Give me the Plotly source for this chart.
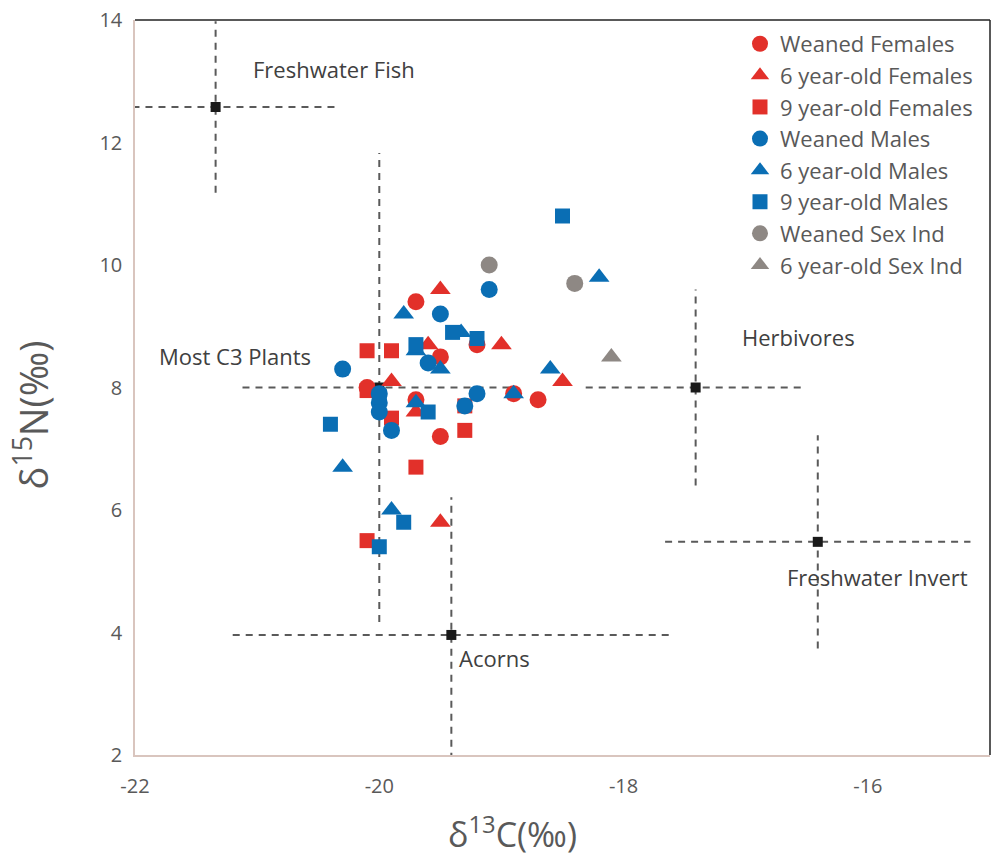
import plotly.graph_objects as go

# ---------------- data ----------------
wf_x = [-19.7, -19.5, -19.2, -20.1, -19.7, -18.9, -18.7, -19.5]
wf_y = [9.4, 8.5, 8.7, 8.0, 7.8, 7.9, 7.8, 7.2]

f6_x = [-19.5, -19.6, -19.0, -18.5, -19.9, -19.7, -19.5]
f6_y = [9.6, 8.7, 8.7, 8.1, 8.1, 7.6, 5.8]

f9_x = [-20.1, -19.9, -20.1, -19.9, -19.3, -19.3, -19.7, -20.1]
f9_y = [8.6, 8.6, 7.95, 7.5, 7.7, 7.3, 6.7, 5.5]

wm_x = [-19.1, -19.5, -20.3, -19.6, -19.2, -19.3, -19.9, -20.0, -20.0, -20.0]
wm_y = [9.6, 9.2, 8.3, 8.4, 7.9, 7.7, 7.3, 7.9, 7.75, 7.6]

m6_x = [-18.2, -19.8, -19.33, -19.7, -19.5, -18.6, -18.9, -19.7, -20.3, -19.9]
m6_y = [9.8, 9.2, 8.9, 8.6, 8.3, 8.3, 7.9, 7.75, 6.7, 6.0]

m9_x = [-18.5, -19.4, -19.2, -19.7, -19.6, -20.4, -19.8, -20.0, -20.0]
m9_y = [10.8, 8.9, 8.8, 8.7, 7.6, 7.4, 5.8, 5.4, 7.85]

ws_x = [-19.1, -18.4]
ws_y = [10.0, 9.7]

s6_x = [-18.1]
s6_y = [8.5]

src_names = ["Freshwater Fish", "Most C3 Plants", "Herbivores", "Freshwater Invert", "Acorns"]
src_x = [-21.34, -20.0, -17.41, -16.41, -19.41]
src_y = [12.58, 8.0, 8.0, 5.48, 3.96]
src_xerr = [1.0, 1.12, 0.9, 1.25, 1.79]
src_yerr = [1.4, 3.83, 1.6, 1.74, 2.25]
lbl_x = [-20.37, -21.18, -16.57, -15.92, -19.06]
lbl_y = [13.2, 8.52, 8.82, 4.9, 3.58]

x_ticks = [-22, -20, -18, -16]
y_ticks = [2, 4, 6, 8, 10, 12, 14]

RED = "#E2302A"
BLUE = "#0A6EB4"
GREY = "#8E8884"
TXT = "#595959"
DASH = "#5A5A5A"
NARROW = "Liberation Sans Narrow, Arial Narrow, Open Sans"

fig = go.Figure()

# source error bars (dashed)
for i in range(len(src_names)):
    fig.add_trace(go.Scatter(
        x=[src_x[i] - src_xerr[i], src_x[i] + src_xerr[i]], y=[src_y[i], src_y[i]],
        mode="lines", line=dict(color=DASH, width=2, dash="7px,6px"),
        showlegend=False, hoverinfo="skip"))
    fig.add_trace(go.Scatter(
        x=[src_x[i], src_x[i]], y=[src_y[i] - src_yerr[i], src_y[i] + src_yerr[i]],
        mode="lines", line=dict(color=DASH, width=2, dash="7px,6px"),
        showlegend=False, hoverinfo="skip"))
fig.add_trace(go.Scatter(x=src_x, y=src_y, mode="markers",
                         marker=dict(symbol="square", size=10, color="#1a1a1a"),
                         showlegend=False, hoverinfo="skip"))

series = [
    ("Weaned Females", wf_x, wf_y, "circle", RED, 17),
    ("6 year-old Females", f6_x, f6_y, "triangle-up", RED, 18),
    ("9 year-old Females", f9_x, f9_y, "square", RED, 15),
    ("Weaned Males", wm_x, wm_y, "circle", BLUE, 17),
    ("6 year-old Males", m6_x, m6_y, "triangle-up", BLUE, 18),
    ("9 year-old Males", m9_x, m9_y, "square", BLUE, 15),
    ("Weaned Sex Ind", ws_x, ws_y, "circle", GREY, 17),
    ("6 year-old Sex Ind", s6_x, s6_y, "triangle-up", GREY, 18),
]
for name, xs, ys, sym, col, sz in series:
    fig.add_trace(go.Scatter(x=xs, y=ys, mode="markers", name=name,
                             marker=dict(symbol=sym, color=col, size=sz, line=dict(width=0))))

for i in range(len(src_names)):
    fig.add_annotation(x=lbl_x[i], y=lbl_y[i], text=src_names[i], showarrow=False,
                       font=dict(size=22, color="#404040", family="Open Sans"),
                       xanchor="center", yanchor="middle")

# axis titles
fig.add_annotation(xref="paper", yref="paper", x=0.442, y=-0.106, yanchor="middle",
                   xanchor="center", text="δ<sup>13</sup>C(‰)", showarrow=False,
                   font=dict(size=34, color=TXT, family=NARROW))
fig.add_annotation(xref="paper", yref="paper", x=-0.12, y=0.4626, textangle=-90,
                   text="δ<sup>15</sup>N(‰)", showarrow=False, xanchor="center", yanchor="middle",
                   font=dict(size=38, color=TXT, family=NARROW))

# top/right black frame
fig.add_shape(type="line", xref="x domain", yref="y domain", x0=0, x1=1, y0=1, y1=1,
              line=dict(color="#222222", width=1.5))
fig.add_shape(type="line", xref="x domain", yref="y domain", x0=1, x1=1, y0=0, y1=1,
              line=dict(color="#222222", width=1.5))

fig.update_layout(
    width=993, height=858,
    margin=dict(l=135, r=3, t=20, b=103),
    plot_bgcolor="white", paper_bgcolor="white",
    font=dict(family="Open Sans", color=TXT),
    legend=dict(x=0.7076, y=0.996, xanchor="left", yanchor="top",
                font=dict(size=22, color=TXT), bgcolor="rgba(0,0,0,0)",
                itemwidth=30, tracegroupgap=0),
    showlegend=True,
)
fig.update_xaxes(range=[-22, -15], tickvals=x_ticks, ticktext=[str(v) for v in x_ticks],
                 showgrid=False, zeroline=False, showline=True, linecolor="#D9C5BE", linewidth=1.5,
                 ticks="", tickfont=dict(size=20, color=TXT), ticklabelstandoff=12)
fig.update_yaxes(range=[2, 14], tickvals=y_ticks, ticktext=[str(v) for v in y_ticks],
                 showgrid=False, zeroline=False, showline=True, linecolor="#D9C5BE", linewidth=1.5,
                 ticks="", tickfont=dict(size=20, color=TXT), ticklabelstandoff=7)

fig.write_html("out.html", config={"displayModeBar": False},
               post_script="document.body.style.margin='0px';")
